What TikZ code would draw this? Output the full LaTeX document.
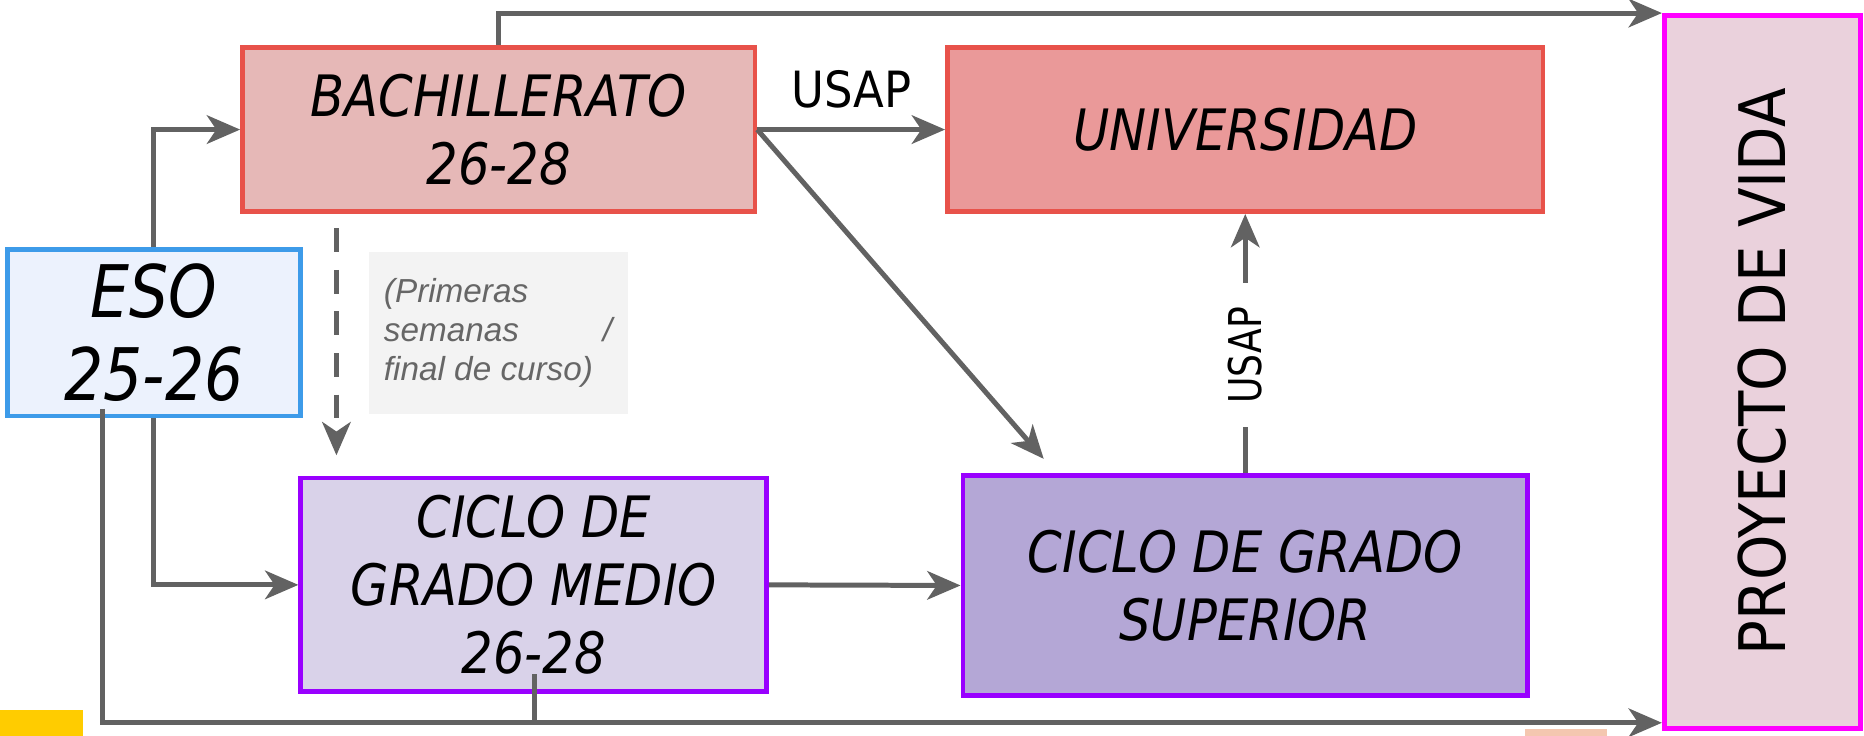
\documentclass[tikz,border=0pt]{standalone}
\usepackage{fontspec}
\setmainfont{DejaVu Sans}
\newfontfamily\boxfont[FakeStretch=0.87]{DejaVu Sans}
\newfontfamily\esofont[FakeStretch=0.85]{DejaVu Sans}
\newfontfamily\labfont[FakeStretch=0.9]{DejaVu Sans}
\newfontfamily\vlabfont[FakeStretch=0.8]{DejaVu Sans}
\newfontfamily\notefont{Liberation Sans}
\usetikzlibrary{arrows.meta,calc}
\definecolor{arrowgray}{HTML}{626262}
\definecolor{redb}{HTML}{E8524A}
\definecolor{bachfill}{HTML}{E6B8B7}
\definecolor{univfill}{HTML}{EA9999}
\definecolor{proyfill}{HTML}{EAD1DC}
\definecolor{proyb}{HTML}{FF00FF}
\definecolor{esofill}{HTML}{ECF2FD}
\definecolor{esob}{HTML}{3D9BE9}
\definecolor{cgmfill}{HTML}{D9D2E9}
\definecolor{cgsfill}{HTML}{B4A7D6}
\definecolor{purpleb}{HTML}{9900FF}
\definecolor{notefill}{HTML}{F3F3F3}
\definecolor{notetext}{HTML}{666666}
\definecolor{yellowsq}{HTML}{FFCC00}
\definecolor{peachsq}{HTML}{F4C7B0}
\begin{document}
\begin{tikzpicture}[x=0.5pt,y=-0.5pt,
  box/.style={draw, line width=2pt, align=center, inner sep=0pt,
    font={\boxfont\itshape\fontsize{24}{28.5}\selectfont}},
  arr/.style={draw=arrowgray, line width=2.1pt, -{Stealth[length=14pt,width=12pt,inset=4pt]}},
  plainline/.style={draw=arrowgray, line width=2.1pt}
]
\useasboundingbox (0,0) rectangle (1568,619);
\fill[yellowsq] (0,597) rectangle (70,619);
\fill[peachsq] (1283,613) rectangle (1352,619);

\node[box, fill=bachfill, draw=redb, minimum width=215.5pt, minimum height=69pt] (bach) at (419.5,109) {BACHILLERATO\\26-28};
\node[box, fill=univfill, draw=redb, minimum width=250.5pt, minimum height=69pt] (univ) at (1047.5,109) {UNIVERSIDAD};
\node[box, fill=proyfill, draw=proyb, minimum width=82.5pt, minimum height=300pt] (proy) at (1482.5,313) {};
\node[rotate=90, font={\labfont\fontsize{27}{32}\selectfont}] (proytext) at (proy.center) {PROYECTO DE VIDA};
\node[box, fill=esofill, draw=esob, minimum width=123.5pt, minimum height=70pt,
  font={\esofont\itshape\fontsize{30.5}{35}\selectfont}] (eso) at (129.5,280) {ESO\\25-26};
\node[fill=notefill, minimum width=109pt, minimum height=68pt, inner sep=0pt] (note) at (419,280)
  {\parbox{96pt}{\notefont\itshape\fontsize{14}{16.5}\selectfont\color{notetext}(Primeras\\ semanas\hfill/\\ final de curso)}};
\node[box, fill=cgmfill, draw=purpleb, minimum width=196pt, minimum height=90pt] (cgm) at (449,492) {CICLO DE\\GRADO MEDIO\\26-28};
\node[box, fill=cgsfill, draw=purpleb, minimum width=237.5pt, minimum height=92.5pt] (cgs) at (1047.5,492.5) {CICLO DE GRADO\\SUPERIOR};

% connectors
\draw[arr] (bach.north) |- (proy.north west);
\draw[arr] (bach.east) -- node[above=8pt, inner sep=0pt, font={\labfont\fontsize{21}{25}\selectfont}] (usap1) {USAP} (univ.west);
\draw[arr] (bach.east) -- ($(cgs.north west)+(70,-12)$);
\draw[arr] (eso.north) |- (bach.west);
\draw[arr, dash pattern=on 10pt off 7.5pt] ($(bach.south west)+(81,12)$) -- ($(cgm.north west)+(32,-17)$);
\draw[arr] (eso.south) |- (cgm.west);
\draw[arr] (cgm.east) -- (cgs.west);
\draw[arr] (cgs.north) -- node[pos=0.455, rotate=90, fill=white, inner xsep=10pt, inner ysep=2pt,
  font={\vlabfont\fontsize{19}{23}\selectfont}] (usap2) {USAP} (univ.south);
\coordinate (bstart) at ($(eso.south west)+(82,-8)$);
\coordinate (bend) at ($(proy.south west)+(0,-7)$);
\draw[arr] (bstart) |- (bend);
\coordinate (cgmdrop) at ($(cgm.south)+(1,-17)$);
\draw[plainline] (cgmdrop) -- (cgmdrop |- bend);
\end{tikzpicture}
\end{document}
